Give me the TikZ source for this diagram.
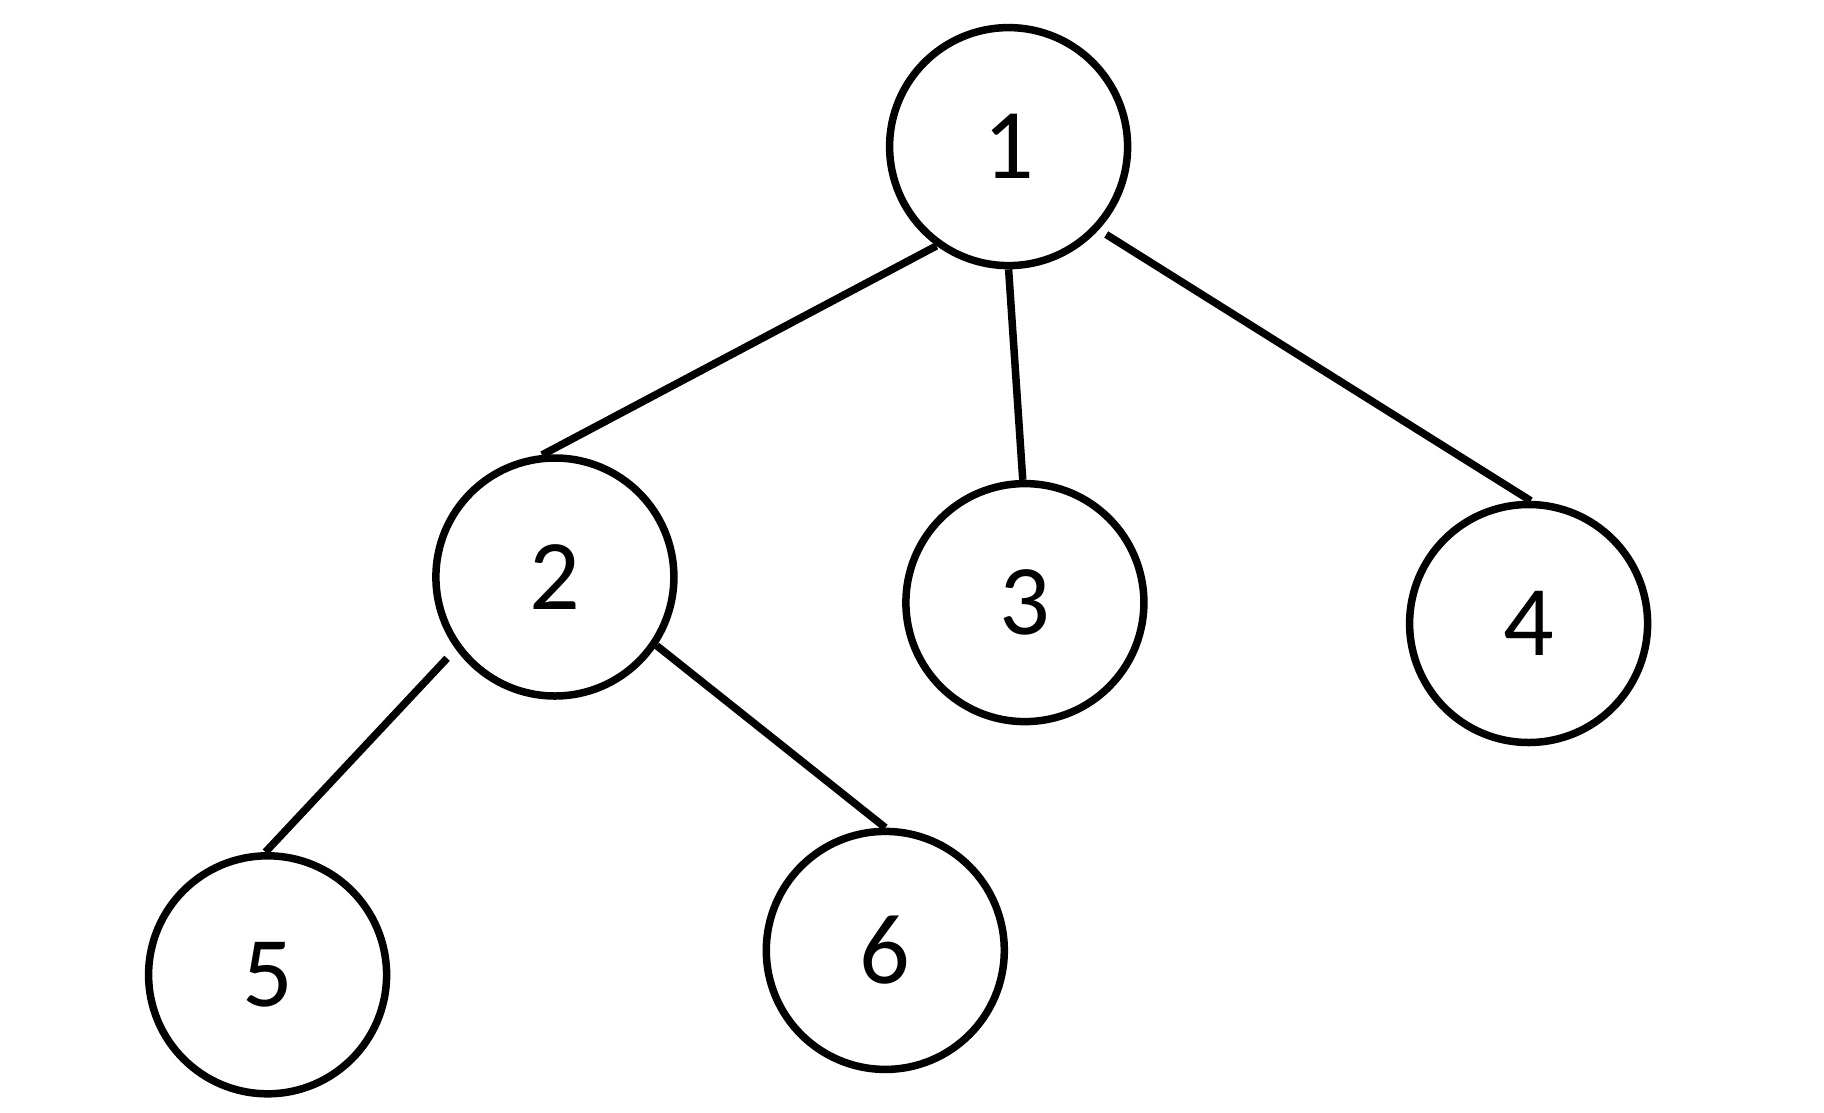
\documentclass[tikz,border=0pt]{standalone}
\usepackage{fontspec}
\setmainfont{Carlito}
\usetikzlibrary{calc}
\begin{document}
\begin{tikzpicture}[x=1pt,y=-1pt,
  vert/.style={circle,draw=black,line width=7.5pt,minimum size=238pt,inner sep=0pt,font=\fontsize{100}{120}\selectfont},
  edge/.style={draw=black,line width=7.5pt}]
\useasboundingbox[fill=white] (0,0) rectangle (1824,1112);
\node[vert] (n1) at (1008.6,146.6) {1};
\node[vert] (n2) at (554.9,577.0) {2};
\node[vert] (n3) at (1024.9,602.6) {3};
\node[vert] (n4) at (1528.6,623.5) {4};
\node[vert] (n5) at (267.6,974.8) {5};
\node[vert] (n6) at (885.3,950.4) {6};
\draw[edge] (n1.234) -- (n2.96);
\draw[edge] (n1.270) -- (n3.91.6);
\draw[edge] ($(n1.center)!1.07!(n1.318)$) -- (n4.89);
\draw[edge] ($(n2.center)!1.1!(n2.217)$) -- (n5.91);
\draw[edge] (n2.326) -- (n6.90);
\end{tikzpicture}
\end{document}
